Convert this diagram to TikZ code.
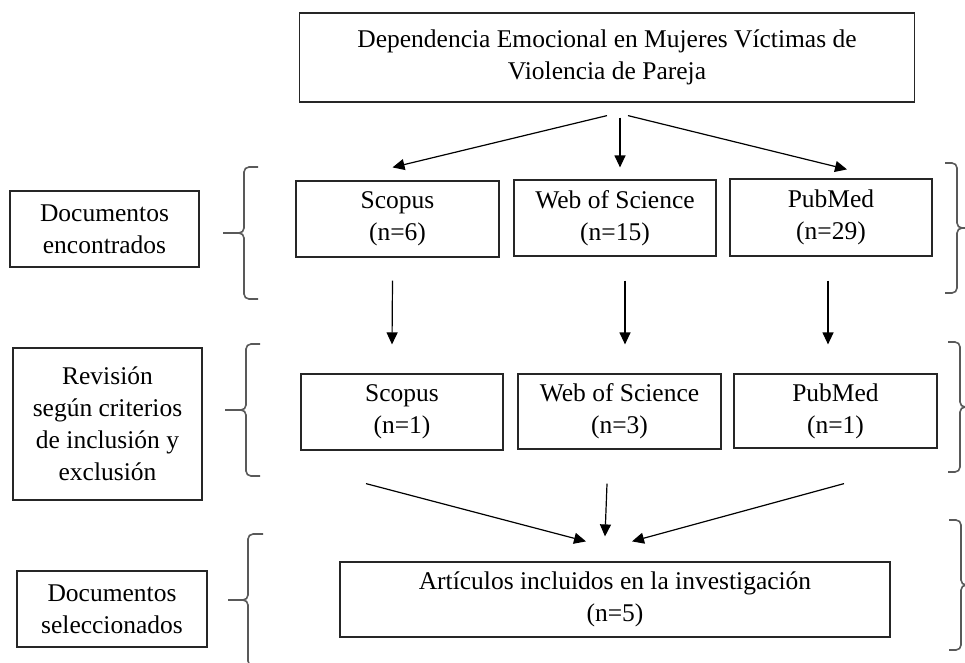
\documentclass[tikz,border=0pt]{standalone}
\usepackage{fontspec}
\setmainfont{Liberation Serif}
\usepackage{tikz}
\usetikzlibrary{arrows.meta,positioning}
\tikzstyle{box}   = [rectangle, draw=black!85, line width=1.2pt, align=center, inner sep=0pt, font=\fontsize{25.5}{32}\selectfont]
\tikzstyle{arrow} = [line width=1.2pt, -{Triangle[length=12pt,width=11pt]}]
\tikzstyle{brk}   = [line width=1.6pt, draw=black!65, rounded corners=5pt]

\begin{document}
\begin{tikzpicture}[x=1pt,y=-1pt]
        \useasboundingbox (0,0) rectangle (965,662);

        % title
        \node[box, minimum width=615pt, minimum height=89pt] (top) at (607,57.5)
            {Dependencia Emocional en Mujeres V\'ictimas de\\Violencia de Pareja};

        % documentos encontrados
        \node[box, minimum width=203pt, minimum height=76pt] (scopusA) at (397.5,219) {Scopus\\(n=6)};
        \node[box, minimum width=202pt, minimum height=76pt] (wosA) at (615,218) {Web of Science\\(n=15)};
        \node[box, minimum width=202pt, minimum height=77pt] (pubmedA) at (831,217.5) {PubMed\\(n=29)};

        % revision
        \node[box, minimum width=202pt, minimum height=76pt] (scopusB) at (402,412) {Scopus\\(n=1)};
        \node[box, minimum width=203pt, minimum height=75pt] (wosB) at (619.5,411.5) {Web of Science\\(n=3)};
        \node[box, minimum width=203pt, minimum height=74pt] (pubmedB) at (835.5,411) {PubMed\\(n=1)};

        % seleccionados
        \node[box, minimum width=550pt, minimum height=75pt] (final) at (615,599.5)
            {Art\'iculos incluidos en la investigaci\'on\\(n=5)};

        % etapas
        \node[box, minimum width=189pt, minimum height=76pt] (encontrados) at (104.5,229) {Documentos\\encontrados};
        \node[box, minimum width=189pt, minimum height=152pt] (revision) at (107.5,424)
            {Revisi\'on\\seg\'un criterios\\de inclusi\'on y\\exclusi\'on};
        \node[box, minimum width=190pt, minimum height=76pt] (seleccionados) at (112,609) {Documentos\\seleccionados};

        % flechas
        \draw[arrow] ([yshift=-13pt]top.south) -- ([xshift=-5pt,yshift=13pt]scopusA.north);
        \draw[arrow] ([xshift=13pt,yshift=-15pt]top.south) -- ([xshift=5pt,yshift=12pt]wosA.north);
        \draw[arrow] ([xshift=21pt,yshift=-13pt]top.south) -- ([xshift=16pt,yshift=9pt]pubmedA.north);

        \draw[arrow] ([xshift=-5pt,yshift=-23pt]scopusA.south) -- ([xshift=-10pt,yshift=29pt]scopusB.north);
        \draw[arrow] ([xshift=10pt,yshift=-24pt]wosA.south) -- ([xshift=5.5pt,yshift=29pt]wosB.north);
        \draw[arrow] ([xshift=-3pt,yshift=-24pt]pubmedA.south) -- ([xshift=-7.5pt,yshift=29pt]pubmedB.north);

        \draw[arrow] ([xshift=-36pt,yshift=-33pt]scopusB.south) -- ([xshift=-29pt,yshift=20pt]final.north);
        \draw[arrow] ([xshift=-12.5pt,yshift=-34pt]wosB.south) -- ([xshift=-10pt,yshift=25pt]final.north);
        \draw[arrow] ([xshift=8.5pt,yshift=-35pt]pubmedB.south) -- ([xshift=17pt,yshift=20pt]final.north);

        % llaves izquierda
        \draw[brk] (258,167) -- (244,167) -- (244,233) -- (223,233);
        \draw[brk] (258,299) -- (244,299) -- (244,233) -- (223,233);
        \draw[brk] (260,344) -- (246,344) -- (246,410) -- (225,410);
        \draw[brk] (260,476) -- (246,476) -- (246,410) -- (225,410);
        \draw[brk] (263,534) -- (248,534) -- (248,600) -- (228,600);
        \draw[brk] (263,666) -- (248,666) -- (248,600) -- (228,600);

        % llaves derecha
        \draw[brk] (945,163) -- (957,163) -- (957,228) -- (968,228);
        \draw[brk] (945,293) -- (957,293) -- (957,228) -- (968,228);
        \draw[brk] (948,342) -- (960,342) -- (960,407) -- (968,407);
        \draw[brk] (948,472) -- (960,472) -- (960,407) -- (968,407);
        \draw[brk] (949,520) -- (961,520) -- (961,585) -- (968,585);
        \draw[brk] (949,650) -- (961,650) -- (961,585) -- (968,585);
\end{tikzpicture}
\end{document}
